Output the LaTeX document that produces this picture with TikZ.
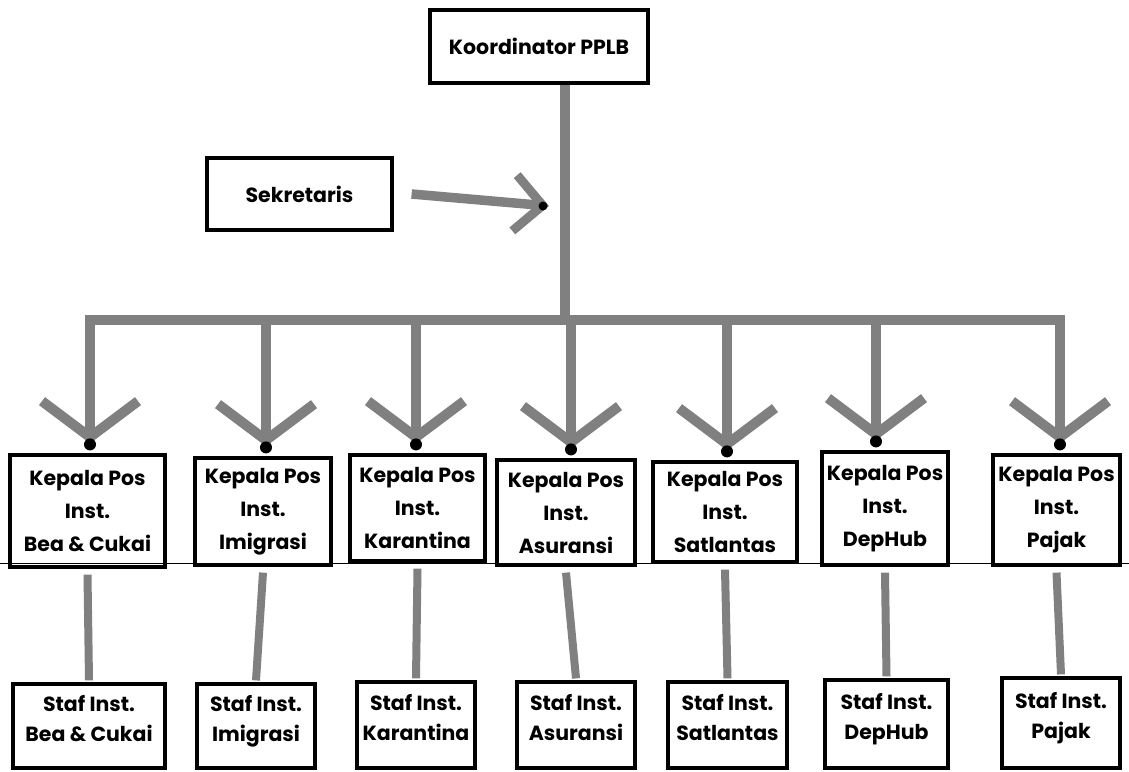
\documentclass[tikz,border=0pt]{standalone}
\usepackage{fontspec}
\setmainfont{Poppins}
\usetikzlibrary{arrows.meta,calc}
\begin{document}
\begin{tikzpicture}[x=1pt,y=-1pt,
  box/.style={draw=black, line width=3.2pt, align=center, inner sep=0pt,
    font=\bfseries\fontsize{20.5}{33}\selectfont},
  stafbox/.style={box, font=\bfseries\fontsize{20.5}{30}\selectfont},
  conn/.style={draw=black!50, line width=9.5pt},
  thinconn/.style={draw=black!50, line width=8pt},
  vtip/.style={-{Straight Barb[length=36pt,width=96pt,line width=10pt]}},
  stip/.style={-{Straight Barb[length=28pt,width=56pt,line width=9pt]}},
  tipdot/.style={fill=black, circle, inner sep=0pt, minimum size=12pt}
]
\useasboundingbox (0,0) rectangle (1129,771);

% top level
\node[box, minimum width=218, minimum height=73] (koord) at (539,46.5) {Koordinator PPLB};
\node[box, minimum width=185, minimum height=72] (sek) at (299.5,194) {Sekretaris};

% Kepala boxes
\node[box, minimum width=155, minimum height=112] (k1) at (87.5,511) {Kepala Pos\\Inst.\\Bea \& Cukai};
\node[box, minimum width=136, minimum height=107] (k2) at (263,511.5) {Kepala Pos\\Inst.\\Imigrasi};
\node[box, minimum width=135, minimum height=106] (k3) at (417.5,508) {Kepala Pos\\Inst.\\Karantina};
\node[box, minimum width=138, minimum height=105] (k4) at (566,512.5) {Kepala Pos\\Inst.\\Asuransi};
\node[box, minimum width=144, minimum height=100] (k5) at (725,512) {Kepala Pos\\Inst.\\Satlantas};
\node[box, minimum width=126, minimum height=113] (k6) at (885,508.5) {Kepala Pos\\Inst.\\DepHub};
\node[box, minimum width=127, minimum height=110] (k7) at (1056.5,510) {Kepala Pos\\Inst.\\Pajak};

% Staf boxes
\node[stafbox, minimum width=152, minimum height=84] (s1) at (89,726) {Staf Inst.\\Bea \& Cukai\\[-14pt]\mbox{}};
\node[stafbox, minimum width=118, minimum height=84] (s2) at (256,726) {Staf Inst.\\Imigrasi\\[-14pt]\mbox{}};
\node[stafbox, minimum width=118, minimum height=86] (s3) at (416,725) {Staf Inst.\\Karantina\\[-14pt]\mbox{}};
\node[stafbox, minimum width=118, minimum height=86] (s4) at (576,725) {Staf Inst.\\Asuransi\\[-14pt]\mbox{}};
\node[stafbox, minimum width=119, minimum height=86] (s5) at (727.5,725) {Staf Inst.\\Satlantas\\[-14pt]\mbox{}};
\node[stafbox, minimum width=123, minimum height=88] (s6) at (886.5,724) {Staf Inst.\\DepHub\\[-14pt]\mbox{}};
\node[stafbox, minimum width=118, minimum height=90] (s7) at (1061,723) {Staf Inst.\\Pajak\\[-14pt]\mbox{}};

% bus coordinates
\coordinate (b1) at (90,320);
\coordinate (b2) at (266,320);
\coordinate (b3) at (416,320);
\coordinate (b4) at (571,320);
\coordinate (b5) at (727,320);
\coordinate (b6) at (876,320);
\coordinate (b7) at (1060,320);
\coordinate (bt) at (565,320);
\coordinate (sektip) at (549,206);

% trunk and bus
\draw[conn] (koord.south -| bt) -- (bt);
\draw[conn, line cap=rect] (b1) -- (b7);

% Sekretaris arrow
\draw[conn, stip] ([xshift=18pt]sek.east) -- (sektip);
\node[tipdot, minimum size=9pt] (sd) at ($(sektip)+(-6,0)$) {};

% drops with arrows
\foreach \i in {1,...,7}{
  \draw[conn, vtip, shorten >=10pt] (b\i) -- (b\i |- k\i.north);
  \node[tipdot] (d\i) at ($(b\i |- k\i.north)+(0,-9)$) {};
}

% Kepala -> Staf
\foreach \i in {1,...,7}{
  \draw[thinconn] ([yshift=-6pt]k\i.south) -- ([yshift=2pt]s\i.north);
}

% thin horizontal line
\draw[line width=1pt] (0,563) -- (1129,563);
\end{tikzpicture}
\end{document}
